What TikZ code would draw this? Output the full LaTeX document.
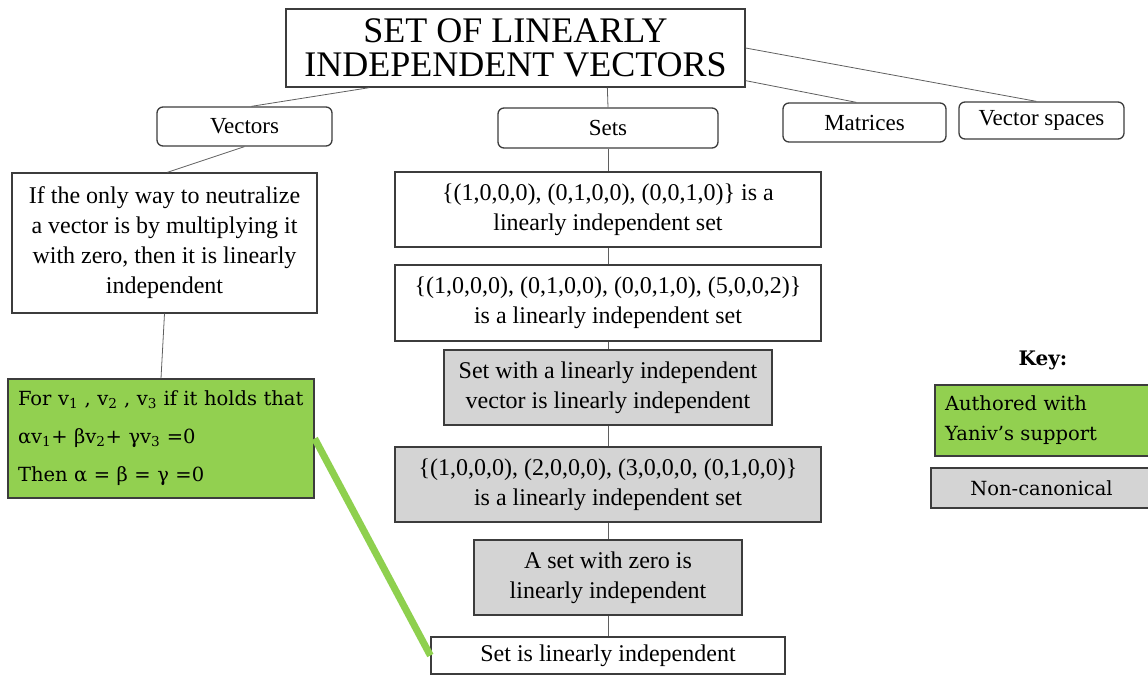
\documentclass[tikz,border=0pt]{standalone}
\usepackage{fontspec}
\setmainfont{Liberation Serif}
\newfontfamily\keyfont{DejaVu Serif}
\usetikzlibrary{calc}

\definecolor{leafgreen}{RGB}{146,208,80}
\definecolor{linkgreen}{RGB}{142,208,78}
\definecolor{boxgray}{RGB}{212,212,212}
\definecolor{edgegray}{RGB}{60,60,60}
\definecolor{wiregray}{RGB}{95,95,95}

\begin{document}
\begin{tikzpicture}[x=1pt,y=-1pt,
  box/.style={draw=edgegray, line width=1.3pt, inner sep=0pt, align=center,
              font=\fontsize{24}{30}\selectfont},
  topic/.style={box, rounded corners=6pt, fill=white, font=\fontsize{23}{28}\selectfont},
  plain/.style={box, fill=white},
  grey/.style={box, fill=boxgray},
  authored/.style={box, fill=leafgreen, align=left, inner xsep=10pt,
                   font=\keyfont\fontsize{19.5}{38}\selectfont},
  wire/.style={draw=wiregray, line width=0.8pt},
  greenlink/.style={draw=linkgreen, line width=7pt},
]
\useasboundingbox (0,0) rectangle (1148,675);

% heading
\node[plain, minimum width=459pt, minimum height=78pt,
      font=\fontsize{36}{34}\selectfont] (title) at (515.5,48)
  {SET OF LINEARLY\\INDEPENDENT VECTORS};

% topic row
\node[topic, minimum width=175pt, minimum height=39pt] (vectors) at (244.5,126.5) {Vectors};
\node[topic, minimum width=220pt, minimum height=40pt] (sets) at (608,128) {Sets};
\node[topic, minimum width=163pt, minimum height=39pt] (matrices) at (864.5,122.5) {Matrices};
\node[topic, minimum width=165pt, minimum height=37pt] (vspaces) at (1041.5,120.5) {Vector spaces};

% vectors branch
\node[plain, minimum width=305pt, minimum height=140pt] (def) at (164.5,243)
  {If the only way to neutralize\\a vector is by multiplying it\\with zero, then it is linearly\\independent};
\node[authored, text width=286pt, minimum height=119pt] (formal) at (161,438.5)
  {For v\textsubscript{1} , v\textsubscript{2} , v\textsubscript{3} if it holds that\\
   αv\textsubscript{1}+ βv\textsubscript{2}+ γv\textsubscript{3} =0\\
   Then α = β = γ =0};

% sets branch
\node[plain, minimum width=426pt, minimum height=75pt] (b1) at (608,209.5)
  {\{(1,0,0,0), (0,1,0,0), (0,0,1,0)\} is a\\linearly independent set};
\node[plain, minimum width=426pt, minimum height=76pt] (b2) at (608,303)
  {\{(1,0,0,0), (0,1,0,0), (0,0,1,0), (5,0,0,2)\}\\is a linearly independent set};
\node[grey, minimum width=328pt, minimum height=75pt] (b3) at (608,387.5)
  {Set with a linearly independent\\vector is linearly independent};
\node[grey, minimum width=426pt, minimum height=75pt] (b4) at (608,484.5)
  {\{(1,0,0,0), (2,0,0,0), (3,0,0,0, (0,1,0,0)\}\\is a linearly independent set};
\node[grey, minimum width=268pt, minimum height=75pt] (b5) at (608,577.5)
  {A set with zero is\\linearly independent};
\node[plain, minimum width=354pt, minimum height=37pt] (b6) at (608,655.5)
  {Set is linearly independent};

% key
\node[font=\keyfont\bfseries\fontsize{20}{24}\selectfont, inner sep=0pt] (keytitle) at (1043,360) {Key:};
\node[authored, text width=197pt, minimum height=71pt, font=\keyfont\fontsize{19.5}{30}\selectfont]
  (keygreen) at (1043.5,420.5) {Authored with\\Yaniv’s support};
\node[grey, minimum width=221pt, minimum height=40pt, font=\keyfont\fontsize{19.5}{24}\selectfont]
  (keygray) at (1041.5,488) {Non-canonical};

% connectors
\draw[wire] ($(title.south west)+(84,0)$) -- ($(vectors.north west)+(95,0)$);
\draw[wire] ($(title.south west)+(322,0)$) -- (sets.north);
\draw[wire] ($(title.south east)+(0,-7)$) -- ($(matrices.north west)+(74,0)$);
\draw[wire] (title.east) -- ($(vspaces.north west)+(78,0)$);
\draw[wire] (vectors.south) -- ($(def.north west)+(156,0)$);
\draw[wire] (def.south) -- (formal.north);
\draw[wire] (sets.south) -- (b1.north);
\draw[wire] (b1.south) -- (b2.north);
\draw[wire] (b2.south) -- (b3.north);
\draw[wire] (b3.south) -- (b4.north);
\draw[wire] (b4.south) -- (b5.north);
\draw[wire] (b5.south) -- (b6.north);
\draw[greenlink] (formal.east) -- (b6.west);
\end{tikzpicture}
\end{document}
